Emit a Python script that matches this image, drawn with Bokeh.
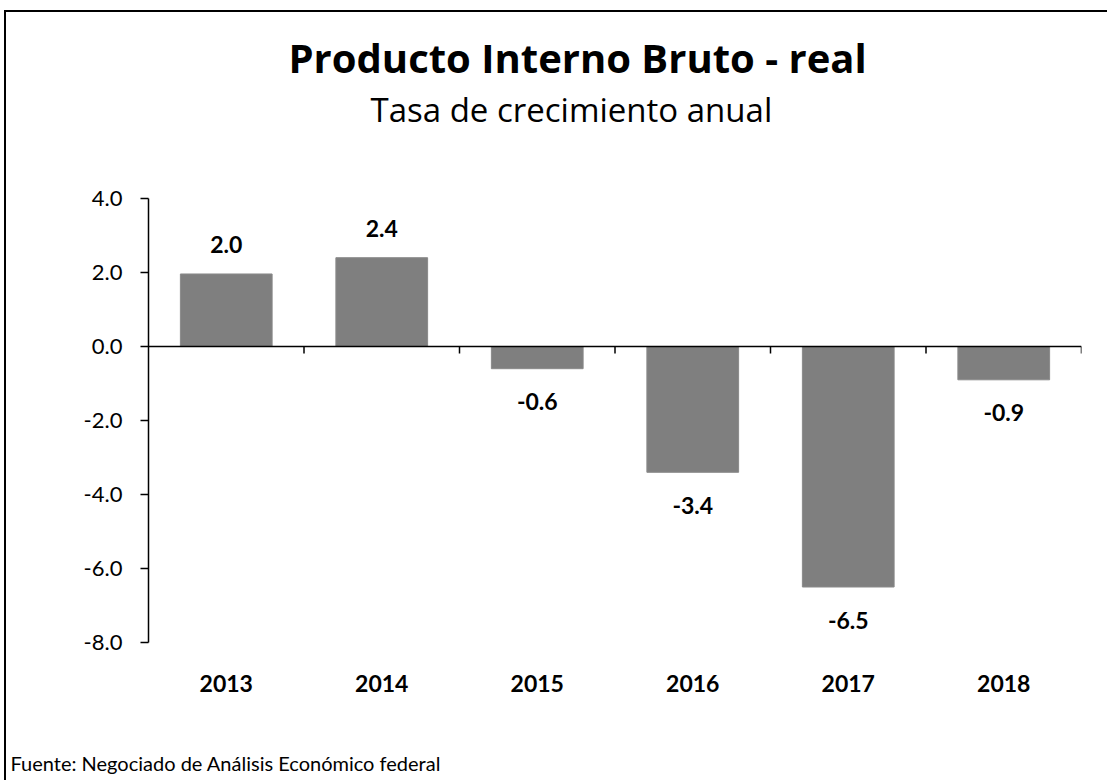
from bokeh.plotting import figure
from bokeh.models import Range1d, FixedTicker, Span, Title, ColumnDataSource, PrintfTickFormatter
from bokeh.core.properties import value
from bokeh.embed import file_html
from bokeh.resources import INLINE

# ---- data ----
years = ["2013", "2014", "2015", "2016", "2017", "2018"]
growth = [1.96, 2.4, -0.6, -3.4, -6.5, -0.9]
y_ticks = [-8.0, -6.0, -4.0, -2.0, 0.0, 2.0, 4.0]

title_text = "Producto Interno Bruto - real"
subtitle_text = "Tasa de crecimiento anual"
source_text = "Fuente: Negociado de Análisis Económico federal"

FONT = "Lato"
TFONT = "Open Sans"

# ---- layout (canvas pixels) ----
W, H = 1103, 770
AX_TOP, AX_BOTTOM = 186, 630        # where 4.0 and -8.0 sit
FRAME_TOP, FRAME_BOTTOM = 119, 736  # frame extended beyond the axis span
LEFT, RIGHT = 142, 28
y_lo, y_hi = min(y_ticks), max(y_ticks)
n = len(years)
px_per_y = (AX_BOTTOM - AX_TOP) / (y_hi - y_lo)
r_top = y_hi + (AX_TOP - FRAME_TOP) / px_per_y
r_bot = y_lo - (FRAME_BOTTOM - AX_BOTTOM) / px_per_y

p = figure(width=W, height=H, output_backend="svg", toolbar_location=None,
           x_range=Range1d(0, n), y_range=Range1d(r_bot, r_top),
           x_axis_location=None,
           min_border_left=LEFT, min_border_right=RIGHT,
           min_border_top=FRAME_TOP, min_border_bottom=H - FRAME_BOTTOM)
p.styles = {"border-left": "2px solid #000", "border-top": "2px solid #000",
            "margin-left": "4px", "margin-top": "10px"}
p.outline_line_color = None
p.grid.visible = False
p.background_fill_color = "white"
p.border_fill_color = "white"

centers = [i + 0.5 for i in range(n)]
src = ColumnDataSource(dict(x=centers, top=growth, year=years,
                            lab=["%.1f" % v for v in growth],
                            ly=[v + (29 / px_per_y if v >= 0 else -33 / px_per_y) for v in growth]))

p.vbar(x="x", top="top", bottom=0, width=0.59, source=src,
       fill_color="#7f7f7f", line_color="#8a8a8a", line_width=1)

# zero line with category boundary ticks
p.add_layout(Span(location=0, dimension="width", line_color="#000", line_width=1.5))
bounds = list(range(1, n + 1))
p.segment(x0=bounds, y0=[0] * len(bounds), x1=bounds, y1=[-7 / px_per_y] * len(bounds),
          line_color="#000", line_width=1.5)

# data labels
p.text(x="x", y="ly", text="lab", source=src, text_align="center", text_baseline="middle",
       text_font=value(FONT), text_font_style="bold", text_font_size="23px", text_color="#000")

# category labels under the axis span
cat_y = y_lo - 41 / px_per_y
p.text(x=centers, y=[cat_y] * n, text=years, text_align="center", text_baseline="middle",
       text_font=value(FONT), text_font_style="bold", text_font_size="23px", text_color="#000")

# y axis
ya = p.yaxis[0]
ya.bounds = (y_lo, y_hi)
ya.ticker = FixedTicker(ticks=y_ticks)
ya.formatter = PrintfTickFormatter(format="%.1f")
ya.axis_line_color = "#000"
ya.axis_line_width = 1.5
ya.major_tick_line_color = "#000"
ya.major_tick_line_width = 1.5
ya.major_tick_out = 8
ya.major_tick_in = 0
ya.minor_tick_line_color = None
ya.major_label_text_font = FONT
ya.major_label_text_font_size = "22px"
ya.major_label_text_color = "#000"
ya.major_label_standoff = 18

# titles and source
p.title.text = title_text
p.title.align = "left"
p.title.offset = 140
p.title.standoff = 0
p.title.text_font = TFONT
p.title.text_font_style = "bold"
p.title.text_font_size = "40px"
p.title.text_color = "#000"
p.add_layout(Title(text=subtitle_text, align="left", offset=222, standoff=0, text_font=TFONT,
                   text_font_style="normal", text_font_size="33px", text_color="#000"), "above")
p.add_layout(Title(text=source_text, align="left", offset=-138, standoff=0, text_font=FONT,
                   text_font_style="normal", text_font_size="20px", text_color="#000"), "below")

open("out.html", "w").write(file_html(p, INLINE))
